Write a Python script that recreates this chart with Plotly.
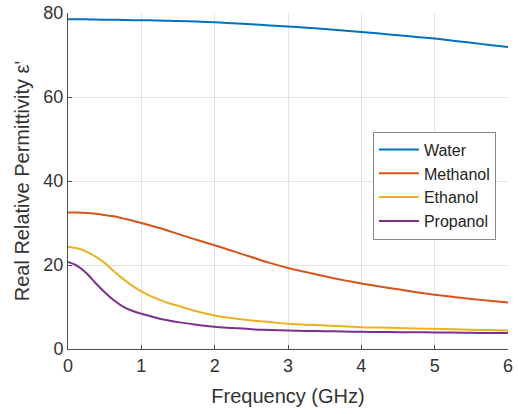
import plotly.graph_objects as go

freq = [0, 0.125, 0.25, 0.375, 0.5, 0.625, 0.75, 0.875, 1.0, 1.125, 1.25, 1.375, 1.5,
        1.75, 2.0, 2.25, 2.5, 2.75, 3.0, 3.25, 3.5, 3.75, 4.0, 4.25, 4.5, 4.75,
        5.0, 5.25, 5.5, 5.75, 6.0]
water = [78.5, 78.5, 78.5, 78.45, 78.4, 78.4, 78.35, 78.3, 78.3, 78.25, 78.2, 78.15, 78.1,
         77.95, 77.8, 77.55, 77.3, 77.05, 76.8, 76.5, 76.2, 75.85, 75.5, 75.1, 74.7, 74.3,
         73.9, 73.4, 72.9, 72.4, 71.9]
methanol = [32.5, 32.5, 32.4, 32.2, 31.9, 31.6, 31.1, 30.6, 30.0, 29.4, 28.8, 28.1, 27.4,
            26.0, 24.7, 23.3, 21.9, 20.5, 19.3, 18.3, 17.3, 16.4, 15.6, 14.9, 14.2, 13.5,
            12.9, 12.4, 11.9, 11.5, 11.1]
ethanol = [24.3, 24.0, 23.2, 22.0, 20.5, 18.5, 16.7, 15.1, 13.7, 12.6, 11.7, 10.9, 10.3,
           9.0, 8.0, 7.3, 6.8, 6.4, 6.0, 5.8, 5.6, 5.4, 5.2, 5.1, 5.0, 4.9,
           4.8, 4.7, 4.6, 4.5, 4.4]
propanol = [20.7, 19.8, 18.1, 15.7, 13.5, 11.6, 10.1, 9.1, 8.4, 7.8, 7.2, 6.8, 6.4,
            5.8, 5.3, 5.0, 4.7, 4.55, 4.4, 4.3, 4.25, 4.15, 4.1, 4.05, 4.0, 3.97,
            3.95, 3.9, 3.85, 3.82, 3.8]

names = ["Water", "Methanol", "Ethanol", "Propanol"]
series = [water, methanol, ethanol, propanol]
colors = ["#0072BD", "#D95319", "#EDB120", "#7E2F8E"]

fig = go.Figure()
for n, s, c in zip(names, series, colors):
    fig.add_trace(go.Scatter(x=freq, y=s, name=n, mode="lines",
                             line=dict(color=c, width=2, shape="spline", smoothing=0.8)))

axis_common = dict(
    showgrid=True, gridcolor="#e3e3e3", gridwidth=1,
    showline=True, linecolor="#4d4d4d", linewidth=1,
    ticks="inside", ticklen=4, tickcolor="#4d4d4d",
    zeroline=False, mirror=False, automargin=False,
    tickfont=dict(family="Liberation Sans, Arial", size=18, color="#333333"),
)

fig.update_layout(
    width=518, height=414,
    margin=dict(l=68, r=10, t=13, b=65),
    paper_bgcolor="white", plot_bgcolor="white",
    font=dict(family="Liberation Sans, Arial", color="#333333"),
    xaxis=dict(range=[0, 6], dtick=1,
               title=dict(text="Frequency (GHz)", font=dict(size=20), standoff=14),
               **axis_common),
    yaxis=dict(range=[0, 80], dtick=20,
               title=dict(text="Real Relative Permittivity ε'", font=dict(size=20), standoff=8),
               **axis_common),
    legend=dict(x=0.693, y=0.647, xanchor="left", yanchor="top",
                bgcolor="white", bordercolor="#888888", borderwidth=1,
                font=dict(size=16, color="#222222"), tracegroupgap=0,
                itemwidth=40),
    showlegend=True,
)

fig.write_html("out.html")
